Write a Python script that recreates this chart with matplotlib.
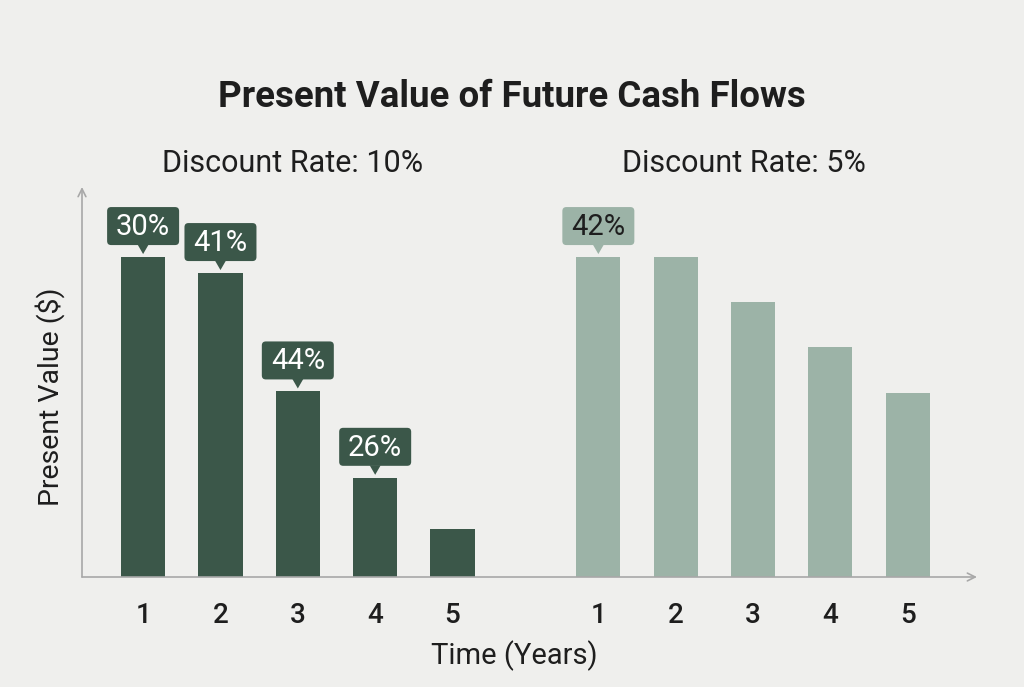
import matplotlib
matplotlib.use("Agg")
import matplotlib.pyplot as plt
from matplotlib.patches import FancyBboxPatch, Polygon
from matplotlib.transforms import ScaledTranslation

# ---- data ----
years = ["1", "2", "3", "4", "5"]
pv_rate10 = [100, 95, 58, 31, 15]
pv_rate5 = [100, 100, 86, 72, 57.5]
labels_rate10 = ["30%", "41%", "44%", "26%", None]
labels_rate5 = ["42%", None, None, None, None]
subtitle_10 = "Discount Rate: 10%"
subtitle_5 = "Discount Rate: 5%"

BG = "#efefed"
DARK = "#3b5749"
LIGHT = "#9cb3a7"
TEXT = "#1e1e1e"
AXIS = "#a8a8a8"

plt.rcParams['font.family'] = ['Roboto', 'DejaVu Sans']

fig = plt.figure(figsize=(10.24, 6.87), dpi=100, facecolor=BG)
ax = fig.add_axes([82/1024, 1-577/687, (977-82)/1024, (577-187)/687])
ax.set_facecolor(BG)

group_gap = 5.885
x10 = [i for i in range(len(years))]
x5 = [i + group_gap for i in range(len(years))]
width = 0.57

ax.bar(x10, pv_rate10, width=width, color=DARK, zorder=2)
ax.bar(x5, pv_rate5, width=width, color=LIGHT, zorder=2)

ax.set_xlim(-0.79, 10.78)
ax.set_ylim(0, 121.9)

for s in ax.spines.values():
    s.set_visible(False)

# axes with arrows
ax.annotate("", xy=(1.0, 0), xytext=(0, 0), xycoords='axes fraction',
            arrowprops=dict(arrowstyle='->', color=AXIS, lw=1.2, shrinkA=0, shrinkB=0,
                            mutation_scale=14))
ax.annotate("", xy=(0, 1.0), xytext=(0, 0), xycoords='axes fraction',
            arrowprops=dict(arrowstyle='->', color=AXIS, lw=1.2, shrinkA=0, shrinkB=0,
                            mutation_scale=14))

ax.set_xticks(x10 + x5)
ax.set_xticklabels(years + years, fontsize=20, fontweight='medium', color=TEXT)
ax.tick_params(axis='x', length=0, pad=18)
ax.set_yticks([])


def callout(x, top, text, fc, tc):
    trans = fig.dpi_scale_trans + ScaledTranslation(x, top, ax.transData)
    box = FancyBboxPatch((-0.36, 0.12), 0.72, 0.38,
                         boxstyle="round,pad=0,rounding_size=0.04",
                         transform=trans, fc=fc, ec='none', zorder=4, clip_on=False)
    ax.add_patch(box)
    tri = Polygon([(-0.055, 0.125), (0.055, 0.125), (0.0, 0.03)], closed=True,
                  transform=trans, fc=fc, ec='none', zorder=4, clip_on=False)
    ax.add_patch(tri)
    ax.text(0, 0.30, text, transform=trans, ha='center', va='center',
            fontsize=21, color=tc, zorder=5)


for x, v, lab in zip(x10, pv_rate10, labels_rate10):
    if lab:
        callout(x, v, lab, DARK, "white")
for x, v, lab in zip(x5, pv_rate5, labels_rate5):
    if lab:
        callout(x, v, lab, LIGHT, TEXT)

fig.text(512/1024, 1-97/687, "Present Value of Future Cash Flows", ha='center', va='center',
         fontsize=26.4, fontweight='bold', color=TEXT)
fig.text(293/1024, 1-164/687, subtitle_10, ha='center', va='center', fontsize=22, color=TEXT)
fig.text(744/1024, 1-164/687, subtitle_5, ha='center', va='center', fontsize=22, color=TEXT)
fig.text(514/1024, 1-656/687, "Time (Years)", ha='center', va='center', fontsize=21, color=TEXT)
fig.text(50/1024, 1-397/687, "Present Value ($)", ha='center', va='center', rotation=90,
         fontsize=20.5, color=TEXT)

fig.savefig("out.png", dpi=100, facecolor=BG)
